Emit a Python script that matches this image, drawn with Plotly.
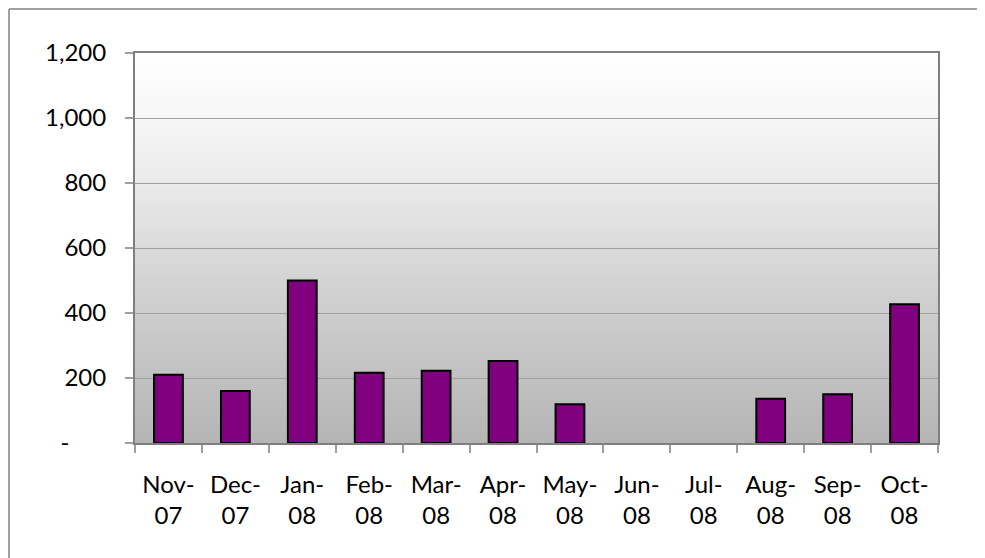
import plotly.graph_objects as go

months = ["Nov-07", "Dec-07", "Jan-08", "Feb-08", "Mar-08", "Apr-08",
          "May-08", "Jun-08", "Jul-08", "Aug-08", "Sep-08", "Oct-08"]
month_labels = ["Nov-<br>07", "Dec-<br>07", "Jan-<br>08", "Feb-<br>08", "Mar-<br>08", "Apr-<br>08",
                "May-<br>08", "Jun-<br>08", "Jul-<br>08", "Aug-<br>08", "Sep-<br>08", "Oct-<br>08"]
values = [210, 160, 500, 216, 222, 252, 119, 0, 0, 136, 150, 427]
y_tickvals = [0, 200, 400, 600, 800, 1000, 1200]
y_ticktext = ["-\u00a0\u00a0\u00a0\u00a0\u00a0\u00a0", "200", "400", "600", "800", "1,000", "1,200"]

FONT = "Lato, 'Open Sans', sans-serif"

fig = go.Figure()
fig.add_trace(go.Bar(
    x=months, y=values,
    marker=dict(color="#800080",
                line=dict(color="#000000", width=[2 if v > 0 else 0 for v in values])),
    width=0.43,
))

# gradient plot background (white at top to grey at bottom)
stops = [(0.0, 181), (0.42, 211), (0.5, 219), (0.667, 234), (0.83, 246), (1.0, 255)]
def grey_at(f):
    for (f0, c0), (f1, c1) in zip(stops[:-1], stops[1:]):
        if f0 <= f <= f1:
            return c0 + (c1 - c0) * (f - f0) / (f1 - f0)
    return 255

shapes = []
N = 120
for i in range(N):
    f0 = i / N
    f1 = (i + 1) / N
    g = int(round(grey_at((f0 + f1) / 2)))
    shapes.append(dict(type="rect", xref="x domain", yref="y domain",
                       x0=0, x1=1, y0=f0, y1=min(f1 + 0.002, 1), layer="below",
                       line=dict(width=0), fillcolor=f"rgb({g},{g},{g})"))
# outer chart border: left edge and top edge only
shapes.append(dict(type="line", xref="paper", yref="paper",
                   x0=-0.1569, x1=-0.1569, y0=-0.3, y1=1.1128,
                   layer="above", line=dict(color="#a0a0a0", width=2)))
shapes.append(dict(type="line", xref="paper", yref="paper",
                   x0=-0.1569, x1=1.06, y0=1.1128, y1=1.1128,
                   layer="above", line=dict(color="#a0a0a0", width=2)))

fig.update_layout(
    width=977, height=550,
    margin=dict(l=127, r=47, t=45, b=115),
    paper_bgcolor="white",
    plot_bgcolor="white",
    showlegend=False,
    shapes=shapes,
    font=dict(family=FONT, size=24, color="#000000"),
)
fig.update_xaxes(
    type="category",
    tickmode="array", tickvals=months, ticktext=month_labels,
    tickson="boundaries", ticks="outside", ticklen=8, tickcolor="#a0a0a0", tickwidth=2,
    showline=True, linecolor="#7f7f7f", linewidth=2, mirror=True,
    showgrid=False,
    tickfont=dict(family=FONT, size=24),
    ticklabelstandoff=19,
)
fig.update_yaxes(
    range=[0, 1200],
    tickmode="array", tickvals=y_tickvals, ticktext=y_ticktext,
    ticks="outside", ticklen=8, tickcolor="#a0a0a0", tickwidth=2,
    showline=True, linecolor="#7f7f7f", linewidth=2, mirror=True,
    showgrid=True, gridcolor="#a0a0a0", gridwidth=1,
    zeroline=False,
    tickfont=dict(family=FONT, size=24),
    ticklabelstandoff=14,
)

fig.write_html("out.html")
